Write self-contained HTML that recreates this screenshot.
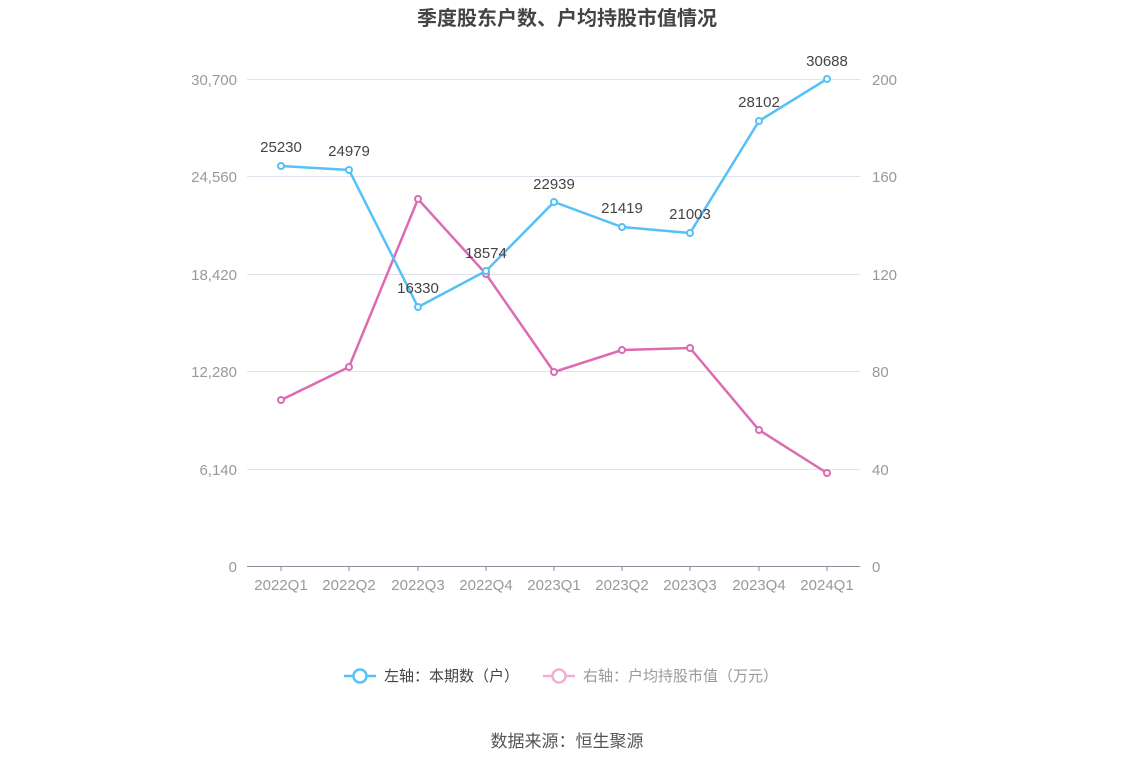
<!DOCTYPE html>
<html><head><meta charset="utf-8"><style>
body{margin:0;background:#fff;}
svg text{font-family:"Liberation Sans","Noto Sans CJK SC",sans-serif;}
</style></head><body>
<svg width="1134" height="766" xmlns="http://www.w3.org/2000/svg">
<text x="567" y="25" text-anchor="middle" font-size="20" font-weight="bold" fill="#444">季度股东户数、户均持股市值情况</text>
<g stroke="#e0e3ee" stroke-width="1">
<line x1="247" y1="79.5" x2="860" y2="79.5"/>
<line x1="247" y1="176.5" x2="860" y2="176.5"/>
<line x1="247" y1="274.5" x2="860" y2="274.5"/>
<line x1="247" y1="371.5" x2="860" y2="371.5"/>
<line x1="247" y1="469.5" x2="860" y2="469.5"/>
</g>
<line x1="247" y1="566.5" x2="860" y2="566.5" stroke="#8a8d9a" stroke-width="1"/>
<g stroke="#8a8d9a">
<line x1="281" y1="566" x2="281" y2="571"/><line x1="349" y1="566" x2="349" y2="571"/><line x1="418" y1="566" x2="418" y2="571"/><line x1="486" y1="566" x2="486" y2="571"/><line x1="554" y1="566" x2="554" y2="571"/><line x1="622" y1="566" x2="622" y2="571"/><line x1="690" y1="566" x2="690" y2="571"/><line x1="759" y1="566" x2="759" y2="571"/><line x1="827" y1="566" x2="827" y2="571"/>
</g>
<g font-size="15" fill="#999" text-anchor="end">
<text x="237" y="85">30,700</text><text x="237" y="182">24,560</text><text x="237" y="280">18,420</text><text x="237" y="377">12,280</text><text x="237" y="475">6,140</text><text x="237" y="572">0</text>
</g>
<g font-size="15" fill="#999" text-anchor="start">
<text x="872" y="85">200</text><text x="872" y="182">160</text><text x="872" y="280">120</text><text x="872" y="377">80</text><text x="872" y="475">40</text><text x="872" y="572">0</text>
</g>
<g font-size="15" fill="#999" text-anchor="middle">
<text x="281" y="590">2022Q1</text><text x="349" y="590">2022Q2</text><text x="418" y="590">2022Q3</text><text x="486" y="590">2022Q4</text><text x="554" y="590">2023Q1</text><text x="622" y="590">2023Q2</text><text x="690" y="590">2023Q3</text><text x="759" y="590">2023Q4</text><text x="827" y="590">2024Q1</text>
</g>
<polyline fill="none" stroke="#dd6bb1" stroke-width="2.5" points="281,400 349,367 418,199 486,274 554,372 622,350 690,348 759,430 827,473"/>
<g fill="#fff" stroke="#dd6bb1" stroke-width="2">
<circle cx="281" cy="400" r="3"/><circle cx="349" cy="367" r="3"/><circle cx="418" cy="199" r="3"/><circle cx="486" cy="274" r="3"/><circle cx="554" cy="372" r="3"/><circle cx="622" cy="350" r="3"/><circle cx="690" cy="348" r="3"/><circle cx="759" cy="430" r="3"/><circle cx="827" cy="473" r="3"/>
</g>
<polyline fill="none" stroke="#56c1f6" stroke-width="2.5" points="281,166 349,170 418,307 486,271 554,202 622,227 690,233 759,121 827,79"/>
<g fill="#fff" stroke="#56c1f6" stroke-width="2">
<circle cx="281" cy="166" r="3"/><circle cx="349" cy="170" r="3"/><circle cx="418" cy="307" r="3"/><circle cx="486" cy="271" r="3"/><circle cx="554" cy="202" r="3"/><circle cx="622" cy="227" r="3"/><circle cx="690" cy="233" r="3"/><circle cx="759" cy="121" r="3"/><circle cx="827" cy="79" r="3"/>
</g>
<g font-size="15" fill="#444" text-anchor="middle">
<text x="281" y="152">25230</text><text x="349" y="156">24979</text><text x="418" y="293">16330</text><text x="486" y="258">18574</text><text x="554" y="189">22939</text><text x="622" y="213">21419</text><text x="690" y="219">21003</text><text x="759" y="107">28102</text><text x="827" y="66">30688</text>
</g>
<line x1="344" y1="676" x2="376" y2="676" stroke="#56c1f6" stroke-width="2.5"/>
<circle cx="360" cy="676" r="6.5" fill="#fff" stroke="#56c1f6" stroke-width="2.5"/>
<text x="384" y="681" font-size="15" fill="#444">左轴：本期数（户）</text>
<line x1="543" y1="676" x2="575" y2="676" stroke="#f0b0d6" stroke-width="2.5"/>
<circle cx="559" cy="676" r="6.5" fill="#fff" stroke="#f0b0d6" stroke-width="2.5"/>
<text x="583" y="681" font-size="15" fill="#999">右轴：户均持股市值（万元）</text>
<text x="567" y="747" text-anchor="middle" font-size="17" fill="#555">数据来源：恒生聚源</text>
</svg>
</body></html>
